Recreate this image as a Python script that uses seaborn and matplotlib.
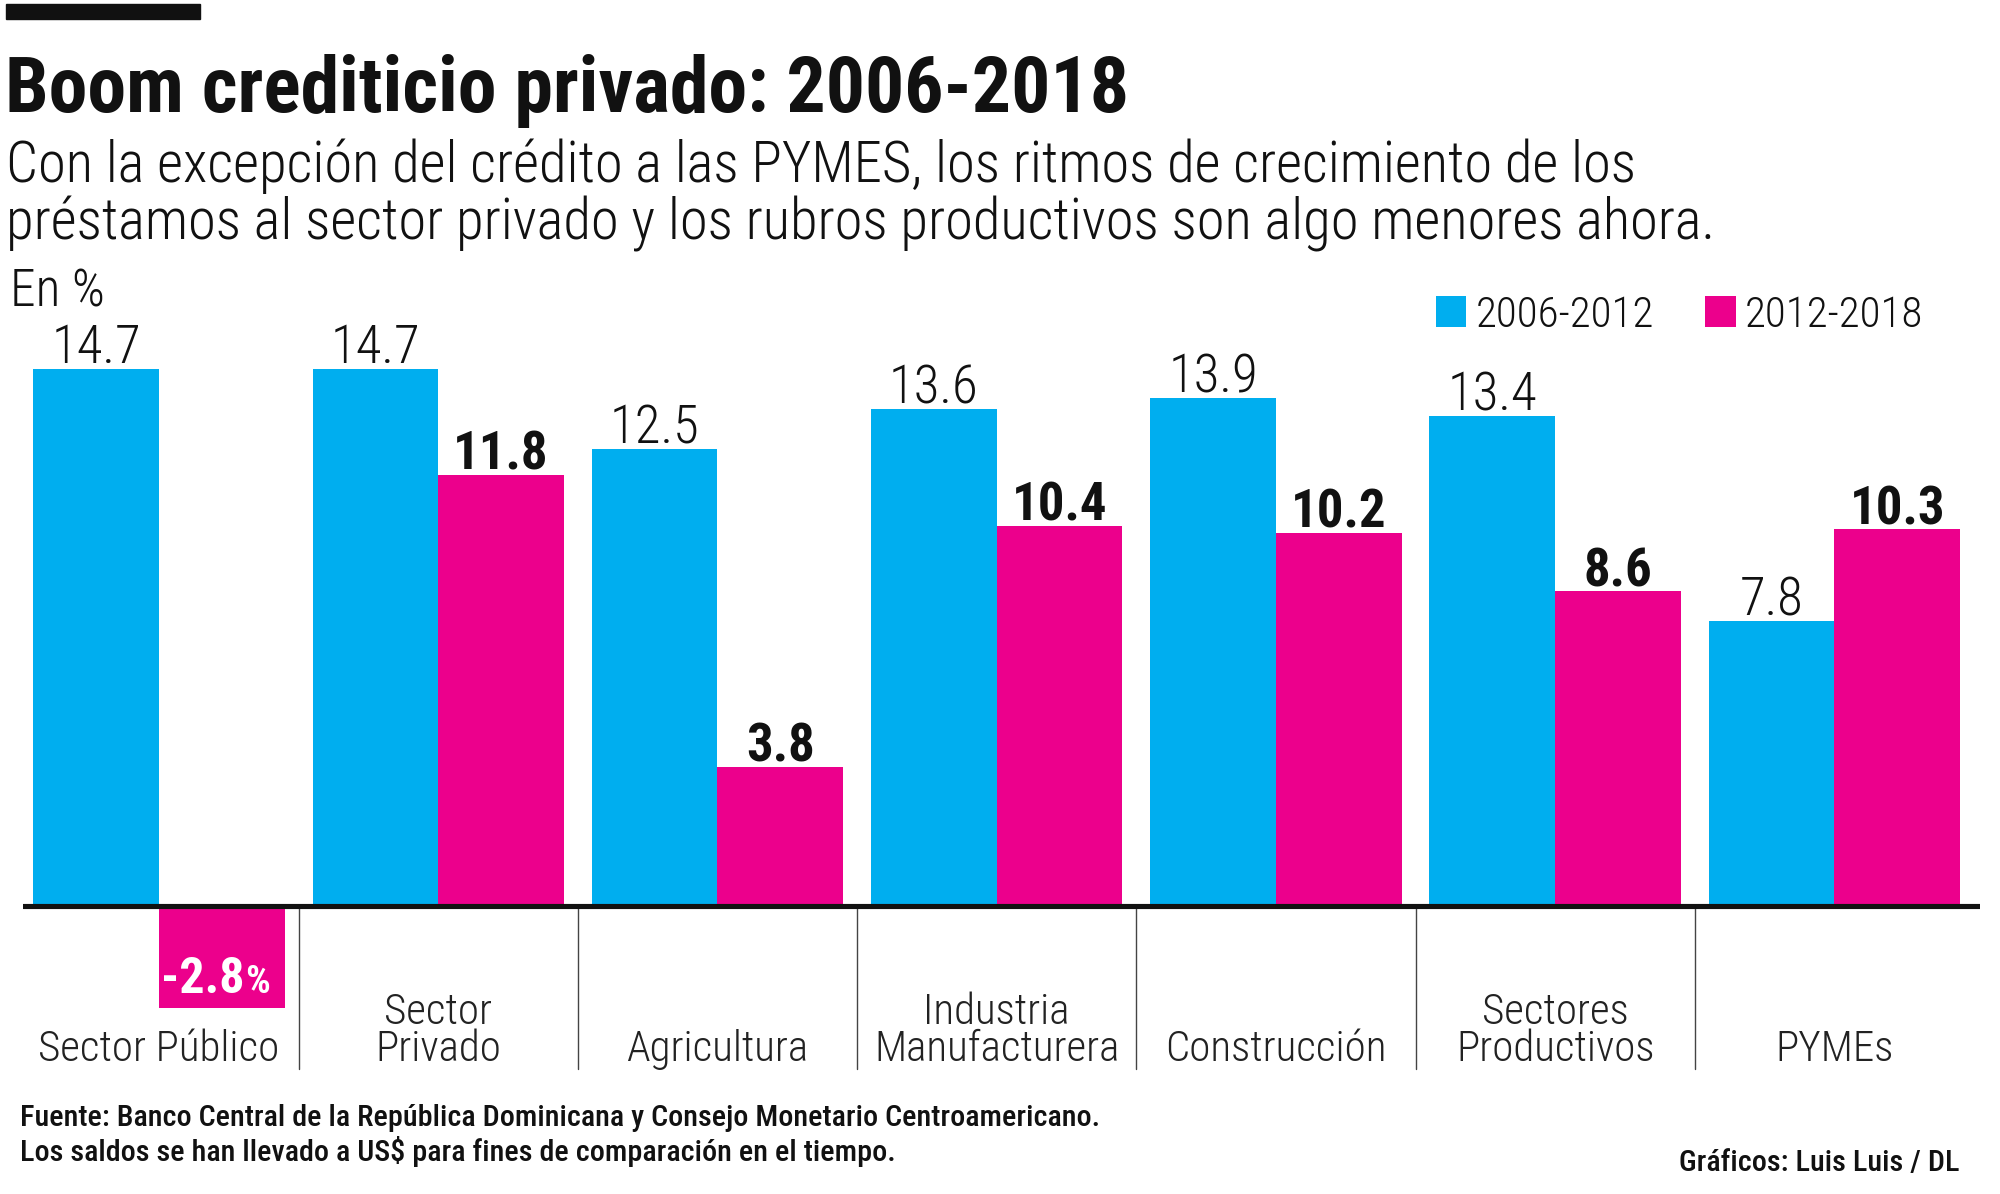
import matplotlib
matplotlib.use("Agg")

import matplotlib.pyplot as plt
import matplotlib.font_manager as fm
import pandas as pd
import seaborn as sns
from matplotlib.patches import Rectangle

# ── data ──
categories = ["Sector Público", "Sector\nPrivado", "Agricultura", "Industria\nManufacturera",
              "Construcción", "Sectores\nProductivos", "PYMEs"]
periods = ["2006-2012", "2012-2018"]
values_2006_2012 = [14.7, 14.7, 12.5, 13.6, 13.9, 13.4, 7.8]
values_2012_2018 = [-2.8, 11.8, 3.8, 10.4, 10.2, 8.6, 10.3]

CYAN = "#00AEEF"
MAGENTA = "#EC008C"
INK = "#111111"

# ── condensed font lookup (the reference uses a condensed sans) ──
_PREFERRED = ["Roboto Condensed", "Open Sans Condensed", "Liberation Sans Narrow",
              "Noto Sans", "Open Sans", "Roboto", "DejaVu Sans"]


def _is_condensed(entry):
    st = entry.stretch
    if isinstance(st, str):
        return "condensed" in st or "narrow" in st
    return st < 100


def _resolve_condensed():
    found = {e.name for e in fm.fontManager.ttflist
             if _is_condensed(e) or "Condensed" in e.name or "Narrow" in e.name}
    name = next((n for n in _PREFERRED if n in found), None)
    if name is None and found:
        name = sorted(found)[0]
    return name


_cond = _resolve_condensed()
FONT = [_cond, "DejaVu Sans"] if _cond else ["DejaVu Sans"]
STRETCH = "condensed"

df = pd.DataFrame({
    "categoria": categories * 2,
    "periodo": [periods[0]] * len(categories) + [periods[1]] * len(categories),
    "valor": values_2006_2012 + values_2012_2018,
})

sns.set_theme(style="white")
plt.rcParams["font.family"] = FONT
plt.rcParams["font.stretch"] = STRETCH

W, H = 1568, 936  # layout measured on a 1568x936 copy of the reference


def fx(px):
    return px / W


def fy(py):
    return 1 - py / H


fig = plt.figure(figsize=(20, 11.94), dpi=100)
ax = fig.add_axes([fx(18), fy(840), fx(1552) - fx(18), fy(250) - fy(840)])

sns.barplot(data=df, x="categoria", y="valor", hue="periodo", order=categories,
            hue_order=periods, palette=[CYAN, MAGENTA], saturation=1, width=0.9,
            linewidth=0, ax=ax)

ax.set_xlim(-0.487, 6.52)
ax.set_ylim(-4.54, 16.06)
ax.axhline(0, color=INK, linewidth=3.7, zorder=5)
for k in range(len(categories) - 1):
    ax.plot([k + 0.5, k + 0.5], [0, -4.47], color="#444444", linewidth=1.0)

for spine in ax.spines.values():
    spine.set_visible(False)
ax.set_xticks([])
ax.set_yticks([])
ax.set_xlabel("")
ax.set_ylabel("")

# value labels
for cont, bold in zip(ax.containers, [False, True]):
    for bar in cont:
        h = bar.get_height()
        cx = bar.get_x() + bar.get_width() / 2
        if h >= 0:
            ax.annotate(f"{h:.1f}", xy=(cx, h), xytext=(0, 3.7), textcoords="offset points",
                        ha="center", va="baseline", fontsize=38, color=INK,
                        fontweight="bold" if bold else "light")
        else:
            ax.annotate(f"{h:.1f}", xy=(cx, h), xytext=(16, 11), textcoords="offset points",
                        ha="right", va="baseline", fontsize=36, color="white",
                        fontweight="bold")
            ax.annotate("%", xy=(cx, h), xytext=(16.5, 11), textcoords="offset points",
                        ha="left", va="baseline", fontsize=28, color="white",
                        fontweight="bold")

# category labels
for i, cat in enumerate(categories):
    ax.text(i, -4.5, cat, ha="center", va="bottom", fontsize=31, color="#222222",
            fontweight="light", linespacing=0.88)

# legend
sns.move_legend(ax, "center right", bbox_to_anchor=(fx(1508), fy(247)),
                bbox_transform=fig.transFigure, ncol=2, frameon=False, title=None,
                prop={"family": FONT, "stretch": STRETCH, "weight": "light", "size": 31},
                handlelength=0.7, handleheight=0.7, handletextpad=0.22,
                columnspacing=1.2, borderpad=0, borderaxespad=0)
for t in ax.get_legend().get_texts():
    t.set_color(INK)

# header
fig.patches.append(Rectangle((fx(5), fy(15)), fx(157) - fx(5), fy(3) - fy(15),
                             transform=fig.transFigure, color=INK))
fig.text(fx(4), fy(88), "Boom crediticio privado: 2006-2018", fontsize=56,
         fontweight="heavy", color=INK, va="baseline")
fig.text(fx(5), fy(188),
         "Con la excepción del crédito a las PYMES, los ritmos de crecimiento de los\n"
         "préstamos al sector privado y los rubros productivos son algo menores ahora.",
         fontsize=40.8, fontweight="light", color=INK, va="baseline", linespacing=1.05)
fig.text(fx(8), fy(240), "En %", fontsize=37, fontweight="light", color=INK, va="baseline")

# footer
fig.text(fx(16), fy(883), "Fuente: Banco Central de la República Dominicana y Consejo Monetario Centroamericano.",
         fontsize=21.7, fontweight="medium", color=INK, va="baseline")
fig.text(fx(16), fy(910), "Los saldos se han llevado a US$ para fines de comparación en el tiempo.",
         fontsize=21.7, fontweight="medium", color=INK, va="baseline")
fig.text(fx(1536), fy(918), "Gráficos: Luis Luis / DL", fontsize=21.7, fontweight="medium",
         color=INK, va="baseline", ha="right")

fig.savefig("out.png", dpi=100)
